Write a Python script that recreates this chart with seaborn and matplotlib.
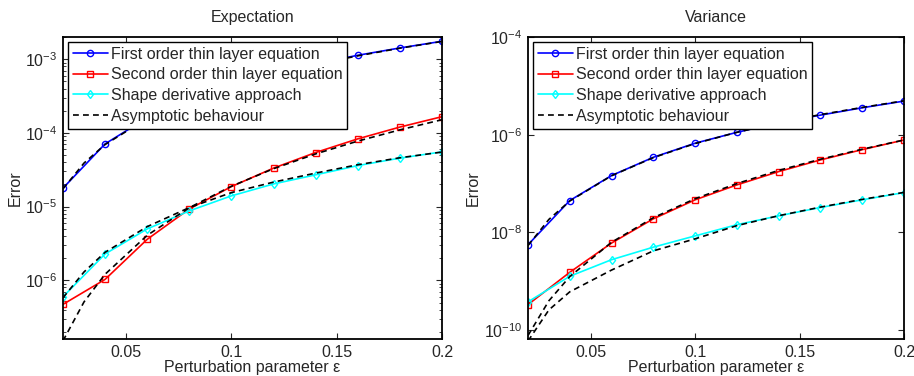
import matplotlib
matplotlib.use("Agg")
import matplotlib.pyplot as plt
import matplotlib.ticker as mticker
import seaborn as sns

# perturbation parameter values
eps = [0.02, 0.04, 0.06, 0.08, 0.10, 0.12, 0.14, 0.16, 0.18, 0.20]
eps_asym = [0.02, 0.03, 0.04, 0.06, 0.08, 0.10, 0.12, 0.14, 0.16, 0.18, 0.20]

# Expectation errors
exp_first = [1.78e-5, 7.1e-5, 1.6e-4, 2.85e-4, 4.45e-4, 6.4e-4, 8.7e-4, 1.13e-3, 1.42e-3, 1.75e-3]
exp_second = [4.72e-7, 1.03e-6, 3.6e-6, 9.3e-6, 1.87e-5, 3.33e-5, 5.42e-5, 8.3e-5, 1.2e-4, 1.66e-4]
exp_shape = [5.98e-7, 2.28e-6, 4.98e-6, 8.75e-6, 1.40e-5, 2.03e-5, 2.7e-5, 3.6e-5, 4.55e-5, 5.53e-5]
exp_asym_first = [1.74e-5, 3.9e-5, 6.95e-5, 1.57e-4, 2.78e-4, 4.35e-4, 6.25e-4, 8.5e-4, 1.11e-3, 1.41e-3, 1.74e-3]
exp_asym_second = [1.51e-7, 5.1e-7, 1.21e-6, 4.08e-6, 9.68e-6, 1.89e-5, 3.27e-5, 5.19e-5, 7.74e-5, 1.10e-4, 1.51e-4]
exp_asym_shape = [5.8e-7, 1.3e-6, 2.4e-6, 5.35e-6, 9.7e-6, 1.55e-5, 2.15e-5, 2.85e-5, 3.7e-5, 4.6e-5, 5.5e-5]

# Variance errors
var_first = [5.6e-9, 4.5e-8, 1.46e-7, 3.45e-7, 6.7e-7, 1.12e-6, 1.75e-6, 2.52e-6, 3.56e-6, 4.88e-6]
var_second = [3.34e-10, 1.53e-9, 6.07e-9, 1.9e-8, 4.65e-8, 9.4e-8, 1.76e-7, 3.05e-7, 4.95e-7, 7.8e-7]
var_shape = [3.8e-10, 1.27e-9, 2.77e-9, 5.0e-9, 8.5e-9, 1.44e-8, 2.19e-8, 3.24e-8, 4.65e-8, 6.55e-8]
var_asym_first = [5.4e-9, 1.85e-8, 4.4e-8, 1.45e-7, 3.4e-7, 6.6e-7, 1.12e-6, 1.76e-6, 2.58e-6, 3.62e-6, 4.95e-6]
var_asym_second = [7.8e-11, 4.0e-10, 1.25e-9, 6.3e-9, 2.0e-8, 4.9e-8, 1.0e-7, 1.86e-7, 3.15e-7, 5.05e-7, 7.8e-7]
var_asym_shape = [6e-11, 2.6e-10, 6.1e-10, 1.7e-9, 4.2e-9, 7.4e-9, 1.38e-8, 2.2e-8, 3.3e-8, 4.75e-8, 6.6e-8]

labels = ["First order thin layer equation", "Second order thin layer equation",
          "Shape derivative approach", "Asymptotic behaviour"]
colors = ["#0000ff", "#ff0000", "#00ffff"]
markers = ["o", "s", "d"]
xticks = [0.05, 0.1, 0.15, 0.2]
xticklabels = ["0.05", "0.1", "0.15", "0.2"]

sns.set_style("ticks")
plt.rcParams["font.family"] = ["Liberation Sans", "DejaVu Sans"]
plt.rcParams["mathtext.fontset"] = "custom"
plt.rcParams["mathtext.rm"] = "Liberation Sans"
plt.rcParams["mathtext.it"] = "Liberation Sans:italic"
FS = 11.5

fig = plt.figure(figsize=(9.14, 3.76), dpi=100)
ax1 = fig.add_axes([0.0689, 0.0984, 0.4147, 0.8032])
ax2 = fig.add_axes([0.5777, 0.0984, 0.4113, 0.8032])


def draw(ax, curves, asym, title, ylim):
    for vals, c, m, lab in zip(curves, colors, markers, labels):
        sns.lineplot(x=eps, y=vals, ax=ax, color=c, marker=m, markersize=4.5,
                     markerfacecolor="none", markeredgecolor=c, markeredgewidth=1,
                     linewidth=1.2, label=lab, legend=False)
    for i, vals in enumerate(asym):
        sns.lineplot(x=eps_asym, y=vals, ax=ax, color="black", linewidth=1.2,
                     dashes=False, linestyle=(0, (3.5, 2.5)),
                     label=labels[3] if i == 0 else None, legend=False)
    ax.set_yscale("log")
    ax.set_xlim(0.02, 0.2)
    ax.set_ylim(*ylim)
    ax.set_xticks(xticks)
    ax.set_xticklabels(xticklabels)
    ax.xaxis.set_minor_locator(mticker.NullLocator())
    ax.set_title(title, fontsize=FS, pad=11)
    ax.set_xlabel("Perturbation parameter ε", fontsize=FS, labelpad=0.5)
    ax.set_ylabel("Error", fontsize=FS, labelpad=2)
    ax.tick_params(which="both", direction="in", top=True, right=True, labelsize=FS)
    ax.tick_params(which="major", length=4, width=0.8, pad=4)
    ax.tick_params(which="minor", length=2, width=0.6)
    for s in ax.spines.values():
        s.set_linewidth(1.3)
        s.set_color("black")
    ax.grid(False)
    h, l = ax.get_legend_handles_labels()
    leg = ax.legend(h, l, loc="upper left", bbox_to_anchor=(0.0, 1.0), borderaxespad=0.3,
                    fancybox=False, framealpha=1, edgecolor="black", fontsize=FS,
                    handlelength=2.2, handletextpad=0.2, borderpad=0.3, labelspacing=0.36)
    leg.get_frame().set_linewidth(1.0)


draw(ax1, [exp_first, exp_second, exp_shape],
     [exp_asym_first, exp_asym_second, exp_asym_shape], "Expectation", (1.6e-7, 2e-3))
draw(ax2, [var_first, var_second, var_shape],
     [var_asym_first, var_asym_second, var_asym_shape], "Variance", (6.6e-11, 1e-4))

ax2.yaxis.set_major_locator(mticker.FixedLocator([1e-10, 1e-8, 1e-6, 1e-4]))
ax2.yaxis.set_minor_locator(mticker.NullLocator())

fig.savefig("out.png", dpi=100)
